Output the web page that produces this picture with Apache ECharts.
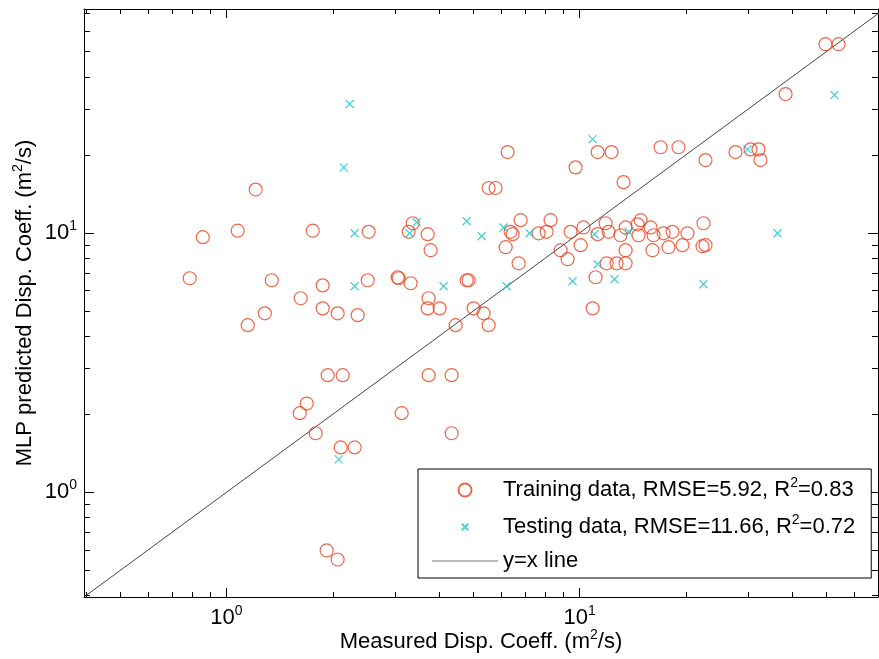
<!DOCTYPE html>
<html>
<head>
<meta charset="utf-8">
<script src="https://cdn.jsdelivr.net/npm/echarts@6/dist/echarts.min.js"></script>
<style>
html,body{margin:0;padding:0;background:#fff;}
#chart{width:879px;height:659px;}
</style>
</head>
<body>
<div id="chart"></div>
<script>
// Training data (measured, predicted)
const trainMeasured = [
  0.787, 0.857, 1.076, 1.21, 1.755, 1.344, 1.873, 1.623, 1.873, 2.065,
  2.353, 1.284, 1.149, 1.935, 2.134, 1.688, 1.613, 1.789, 2.106, 2.307,
  1.922, 2.065, 2.528, 3.368, 3.281, 3.713, 3.786, 6.256, 5.526, 5.784,
  6.808, 6.379, 6.463, 6.175, 6.722, 8.278, 7.656, 8.066, 9.43, 10.26,
  8.837, 9.248, 10.07, 9.743, 2.512, 3.054, 3.074, 3.324, 3.737, 3.713,
  4.016, 4.788, 4.851, 5.011, 5.349, 4.457, 5.526, 3.737, 4.342, 3.135,
  4.342, 10.89, 11.10, 11.25, 12.32, 13.32, 16.96, 19.06, 22.73, 27.64,
  30.49, 32.11, 32.54, 38.31, 49.71, 54.11, 11.85, 11.25, 12.08, 13.06,
  13.50, 14.89, 14.60, 14.69, 15.89, 16.20, 17.30, 18.33, 20.21, 22.44,
  13.50, 16.09, 17.86, 19.56, 22.29, 22.73, 11.93, 12.73, 13.50
];
const trainPredicted = [
  6.69, 9.63, 10.2, 14.7, 10.2, 6.57, 6.28, 5.60, 5.12, 4.90,
  4.82, 4.90, 4.41, 2.83, 2.83, 2.20, 2.02, 1.69, 1.49, 1.49,
  0.597, 0.551, 10.1, 10.9, 10.1, 9.89, 8.58, 20.5, 14.9, 14.9,
  11.2, 10.1, 9.89, 8.81, 7.64, 11.2, 9.97, 10.1, 10.1, 10.5,
  8.58, 7.92, 8.97, 17.9, 6.57, 6.75, 6.69, 6.40, 5.60, 5.12,
  5.12, 6.57, 6.57, 5.12, 4.90, 4.41, 4.41, 2.83, 2.83, 2.02,
  1.69, 5.12, 6.75, 20.5, 20.5, 15.7, 21.4, 21.4, 19.1, 20.5,
  21.0, 21.0, 19.1, 34.3, 53.4, 53.4, 10.9, 9.89, 10.1, 9.80,
  10.5, 11.2, 10.8, 9.80, 10.5, 9.80, 9.97, 10.1, 9.97, 10.9,
  8.58, 8.58, 8.81, 8.97, 8.89, 8.97, 7.64, 7.64, 7.64
];
// Testing data (measured, predicted)
const testMeasured = [
  2.234, 2.148, 2.307, 2.307, 2.079, 3.457, 3.303, 4.788, 5.279, 6.095,
  7.219, 11.03, 11.25, 12.56, 4.121, 6.215, 9.554, 10.89, 29.89, 13.77,
  36.36, 22.44, 52.71
];
const testPredicted = [
  31.4, 17.9, 9.97, 6.23, 1.34, 11.0, 9.97, 11.1, 9.71, 10.5,
  9.97, 9.89, 7.57, 6.63, 6.23, 6.23, 6.51, 23.0, 21.0, 10.1,
  9.97, 6.34, 34.0
];
// y = x reference line end points
const identityLine = [0.395, 73];
// axis ranges and ticks
const xRange = [0.395, 70];
const yRange = [0.395, 73];
const majorTicks = [1, 10];
const minorTicks = [0.4, 0.5, 0.6, 0.7, 0.8, 0.9, 2, 3, 4, 5, 6, 7, 8, 9, 20, 30, 40, 50, 60, 70];
// texts
const seriesNames = ['Training data', 'Testing data', 'y=x line'];
const legendLabels = {
  'Training data': '{n|Training data, RMSE=5.92, R}{s|2}{n|=0.83}',
  'Testing data': '{n|Testing data, RMSE=11.66, R}{s|2}{n|=0.72}',
  'y=x line': 'y=x line'
};
const xTitle = 'Measured Disp. Coeff. (m{s|2}/s)';
const yTitle = 'MLP predicted Disp. Coeff. (m{s|2}/s)';

const FONT = '"Liberation Sans", Arial, sans-serif';
const FS = 22;
const supRich = {
  s: { fontSize: 14, lineHeight: 14, verticalAlign: 'top', fontFamily: FONT, color: '#000' }
};
const black = { color: '#000', width: 1 };
const lineGrey = '#444';

function logAxis(range, position, opts) {
  return Object.assign({
    type: 'log', logBase: 10, min: range[0], max: range[1], position: position,
    splitLine: { show: false }, minorTick: { show: false },
    axisLine: { show: false, onZero: false, lineStyle: black },
    axisTick: { show: false },
    axisLabel: { show: false }
  }, opts);
}
function tickSet(values, len) {
  return { show: true, inside: true, length: len, customValues: values, lineStyle: black };
}
const labelFmt = v => '10{s|' + Math.round(Math.log10(v)) + '}';

const chart = echarts.init(document.getElementById('chart'), null, { renderer: 'canvas' });
chart.setOption({
  backgroundColor: '#fff',
  animation: false,
  grid: { left: 84, right: 1, top: 9, bottom: 62, containLabel: false, outerBoundsMode: 'none' },
  xAxis: [
    logAxis(xRange, 'bottom', {
      axisLine: { show: true, onZero: false, lineStyle: black },
      axisTick: tickSet(minorTicks, 5),
      axisLabel: {
        show: true, customValues: majorTicks, formatter: labelFmt, margin: 7,
        fontSize: FS, lineHeight: 28, fontFamily: FONT, color: '#000', rich: supRich
      },
      name: xTitle, nameLocation: 'middle', nameGap: 31, nameMoveOverlap: false,
      nameTextStyle: { fontSize: FS, lineHeight: 28, fontFamily: FONT, color: '#000', rich: supRich }
    }),
    logAxis(xRange, 'bottom', { axisTick: tickSet(majorTicks, 9) }),
    logAxis(xRange, 'top', {
      axisLine: { show: true, onZero: false, lineStyle: black },
      axisTick: tickSet(minorTicks, 5)
    }),
    logAxis(xRange, 'top', { axisTick: tickSet(majorTicks, 9) })
  ],
  yAxis: [
    logAxis(yRange, 'left', {
      axisLine: { show: true, onZero: false, lineStyle: black },
      axisTick: tickSet(minorTicks, 6),
      axisLabel: {
        show: true, customValues: majorTicks, formatter: labelFmt, margin: 7,
        fontSize: FS, lineHeight: 28, fontFamily: FONT, color: '#000', rich: supRich
      },
      name: yTitle, nameLocation: 'middle', nameGap: 45, nameRotate: 90, nameMoveOverlap: false,
      nameTextStyle: { fontSize: FS, lineHeight: 28, fontFamily: FONT, color: '#000', rich: supRich }
    }),
    logAxis(yRange, 'left', { axisTick: tickSet(majorTicks, 10) }),
    logAxis(yRange, 'right', {
      axisLine: { show: true, onZero: false, lineStyle: black },
      axisTick: tickSet(minorTicks, 6)
    }),
    logAxis(yRange, 'right', { axisTick: tickSet(majorTicks, 10) })
  ],
  legend: {
    orient: 'vertical', left: 418, top: 469,
    padding: [7, 16, 6, 14],
    itemWidth: 66, itemHeight: 13, itemGap: 9,
    borderColor: '#000', borderWidth: 1, backgroundColor: '#fff',
    selectedMode: false,
    data: [
      { name: seriesNames[0] },
      { name: seriesNames[1] },
      { name: seriesNames[2], icon: 'path://M0,0L66,0L66,1L0,1Z', itemStyle: { color: '#777', borderWidth: 0 } }
    ],
    formatter: name => legendLabels[name],
    textStyle: {
      fontSize: FS, lineHeight: 16, fontFamily: FONT, color: '#000',
      rich: Object.assign({ n: { fontSize: FS, lineHeight: 28, fontFamily: FONT, color: '#000' } }, supRich)
    }
  },
  series: [
    {
      name: seriesNames[0], type: 'scatter', xAxisIndex: 0, yAxisIndex: 0,
      symbol: 'circle', symbolSize: 13,
      itemStyle: { color: 'rgba(0,0,0,0)', borderColor: '#e8401c', borderWidth: 1.2 },
      data: trainMeasured.map((x, i) => [x, trainPredicted[i]]),
      z: 3
    },
    {
      name: seriesNames[1], type: 'scatter', xAxisIndex: 0, yAxisIndex: 0,
      symbol: 'path://M0,0M16,16M4,4L12,12M12,4L4,12', symbolSize: 16, symbolKeepAspect: true,
      itemStyle: { color: 'rgba(0,0,0,0)', borderColor: '#1ec3cb', borderWidth: 1.3 },
      data: testMeasured.map((x, i) => [x, testPredicted[i]]),
      z: 4
    },
    {
      name: seriesNames[2], type: 'line', xAxisIndex: 0, yAxisIndex: 0,
      symbol: 'none', silent: true,
      itemStyle: { color: lineGrey },
      lineStyle: { color: lineGrey, width: 1 },
      data: identityLine.map(v => [v, v]),
      z: 2
    }
  ]
});
</script>
</body>
</html>
